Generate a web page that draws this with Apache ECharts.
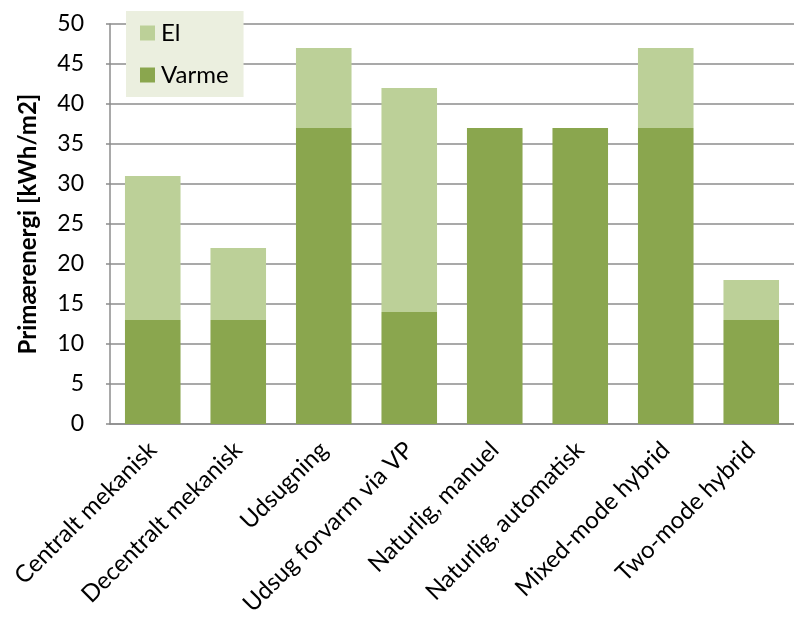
<!DOCTYPE html>
<html><head><meta charset="utf-8">
<script src="https://cdn.jsdelivr.net/npm/echarts@6/dist/echarts.min.js"></script>
<style>html,body{margin:0;padding:0;background:#fff;overflow:hidden}#c{width:794px;height:619px}</style>
</head><body><div id="c"></div>
<script>
const categories = ['Centralt mekanisk','Decentralt mekanisk','Udsugning','Udsug forvarm via VP','Naturlig, manuel','Naturlig, automatisk','Mixed-mode hybrid','Two-mode hybrid'];
const varme = [13, 13, 37, 14, 37, 37, 37, 13];
const el = [18, 9, 10, 28, 0, 0, 10, 5];
const yTitle = 'Primærenergi [kWh/m2]';

const chart = echarts.init(document.getElementById('c'));
const font = 'Lato, "Open Sans", sans-serif';
chart.setOption({
  animation: false,
  grid: {left: 110, right: -9, top: 24, bottom: 195, containLabel: false},
  legend: {
    orient: 'vertical', left: 126, top: 11,
    backgroundColor: '#ebefdf', padding: [10, 15, 10, 14],
    icon: 'rect', itemWidth: 15, itemHeight: 15, itemGap: 18,
    data: ['El', 'Varme'],
    textStyle: {fontSize: 24, color: '#000', fontFamily: font, padding: [0, 0, 0, 1]}
  },
  xAxis: {
    type: 'category', data: categories,
    axisLine: {lineStyle: {color: '#8c8c8c', width: 1.5}},
    axisTick: {show: false},
    axisLabel: {rotate: 45, interval: 0, fontSize: 24, color: '#000', fontFamily: font, margin: 22}
  },
  yAxis: {
    type: 'value', min: 0, max: 50, interval: 5,
    name: yTitle, nameLocation: 'middle', nameGap: 70,
    nameTextStyle: {fontSize: 24, fontWeight: 'bold', color: '#000', fontFamily: font},
    axisLine: {show: true, lineStyle: {color: '#8c8c8c', width: 1.5}},
    axisTick: {show: true, length: 4, lineStyle: {color: '#8c8c8c', width: 1.5}},
    splitLine: {lineStyle: {color: '#8c8c8c', width: 1.5}},
    axisLabel: {fontSize: 23, color: '#000', fontFamily: font, margin: 26}
  },
  series: [
    {name: 'Varme', type: 'bar', stack: 'a', data: varme, barCategoryGap: '35%', itemStyle: {color: '#8aa64e'}},
    {name: 'El', type: 'bar', stack: 'a', data: el, barCategoryGap: '35%', itemStyle: {color: '#bcd098'}}
  ]
});
</script></body></html>
